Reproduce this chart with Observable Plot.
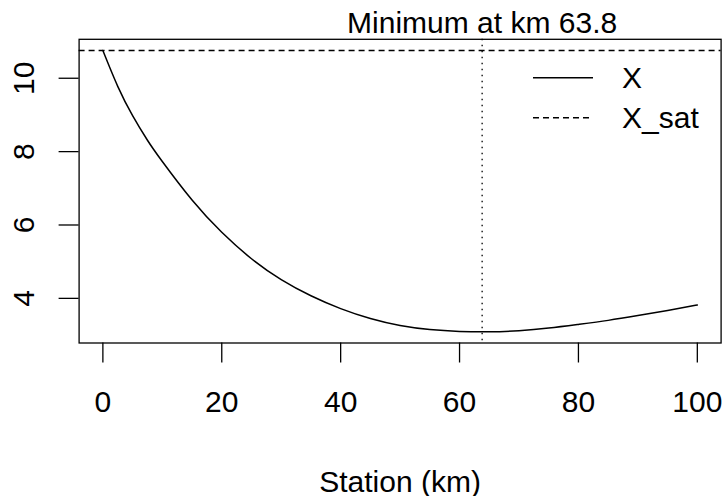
<!DOCTYPE html>
<html><head><meta charset="utf-8">
<script src="https://cdn.jsdelivr.net/npm/d3@7"></script>
<script src="https://cdn.jsdelivr.net/npm/@observablehq/plot@0.6"></script>
<style>html,body{margin:0;padding:0;background:#fff;} #chart{width:723px;height:496px;}</style>
</head><body><div id="chart"></div>
<script>
// Data
const stationKm = [0, 2.5, 5, 7.5, 10, 15, 20, 25, 30, 35, 40, 45, 50, 55, 60, 65, 70, 75, 80, 85, 90, 95, 100];
const xValues   = [10.755, 9.78, 8.98, 8.31, 7.73, 6.68, 5.80, 5.08, 4.51, 4.07, 3.72, 3.45, 3.26, 3.15, 3.10, 3.09, 3.12, 3.19, 3.29, 3.40, 3.53, 3.67, 3.82];
const xSat = 10.755;
const minKm = 63.8;
const xTicks = [0, 20, 40, 60, 80, 100];
const yTicks = [4, 6, 8, 10];
const legendLabels = ["X", "X_sat"];
const legendDashes = [null, "6,4"];
const titleText = `Minimum at km ${minKm}`;
const xLabel = "Station (km)";

const data = stationKm.map((km, i) => ({km, x: xValues[i]}));

// R-style 4% axis extension
const xr = [d3.min(stationKm), d3.max(stationKm)];
const yr = [d3.min(xValues), Math.max(d3.max(xValues), xSat)];
const xe = (xr[1] - xr[0]) * 0.04, ye = (yr[1] - yr[0]) * 0.04;

const W = 723, H = 496;
const mL = 78.6, mR = 2.4, mT = 38.8, mB = 153.5;
const dashLine = "6,4";
const dotLine = "1.5,4.5";

const plot = Plot.plot({
  width: W, height: H,
  marginLeft: mL, marginRight: mR, marginTop: mT, marginBottom: mB,
  x: {domain: [xr[0] - xe, xr[1] + xe]},
  y: {domain: [yr[0] - ye, yr[1] + ye]},
  style: {fontFamily: "'Liberation Sans', Arial, Helvetica, sans-serif", fontSize: "30px", color: "black", background: "white"},
  marks: [
    Plot.ruleY([xSat], {stroke: "black", strokeWidth: 1.4, strokeDasharray: dashLine}),
    Plot.ruleX([minKm], {stroke: "black", strokeWidth: 1.3, strokeDasharray: dotLine}),
    Plot.line(data, {x: "km", y: "x", stroke: "black", strokeWidth: 1.5, curve: "natural"}),
    Plot.frame({stroke: "black", strokeWidth: 1.3}),
    Plot.axisX(xTicks, {tickSize: 20, tickPadding: 28, strokeWidth: 1.3, label: null, fill: "black"}),
    Plot.axisY(yTicks, {tickSize: 20, strokeWidth: 1.3, label: null, tickFormat: () => ""}),
    Plot.text(yTicks, {y: d => d, frameAnchor: "left", dx: -45.3, rotate: -90, textAnchor: "middle", lineAnchor: "bottom", text: d => String(d), fill: "black"}),
    Plot.text([minKm], {x: d => d, frameAnchor: "top", dy: -6, lineAnchor: "bottom", textAnchor: "middle", text: () => titleText, fill: "black"}),
    Plot.text([xLabel], {frameAnchor: "bottom", dy: 148.5, lineAnchor: "bottom", textAnchor: "middle", text: d => d, fill: "black"})
  ]
});

// Legend (R "topright", no box), placed relative to the plot frame
const svgSel = d3.select(plot);
const frameRight = W - mR, frameTop = mT;
const legendG = svgSel.append("g").attr("class", "legend");
legendLabels.forEach((lab, i) => {
  const ly = frameTop + 38.9 + i * 40;
  legendG.append("line")
    .attr("x1", frameRight - 187.6).attr("x2", frameRight - 127.6)
    .attr("y1", ly).attr("y2", ly)
    .attr("stroke", "black").attr("stroke-width", 1.4)
    .attr("stroke-dasharray", legendDashes[i]);
  legendG.append("text")
    .attr("x", frameRight - 98.6).attr("y", ly).attr("dy", "0.35em")
    .attr("text-anchor", "start")
    .attr("fill", "black").text(lab);
});

document.getElementById("chart").appendChild(plot);
</script>
</body></html>
